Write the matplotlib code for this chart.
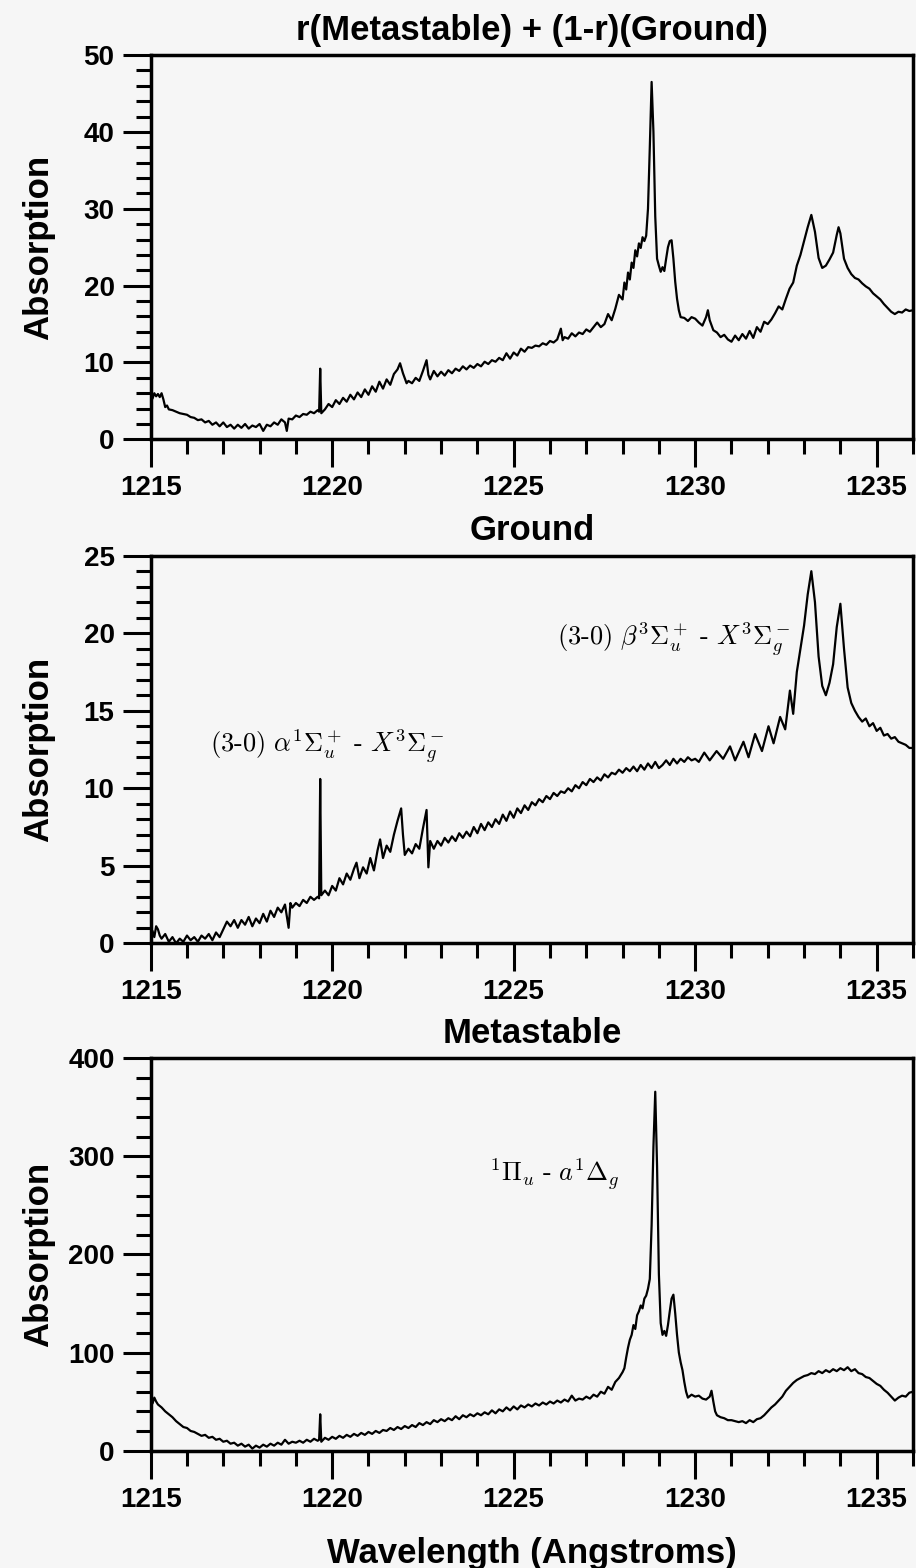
import numpy as np
import matplotlib
matplotlib.use('Agg')
import matplotlib.pyplot as plt
from matplotlib.ticker import MultipleLocator

plt.rcParams['font.family'] = ['Liberation Sans', 'DejaVu Sans']
plt.rcParams['mathtext.fontset'] = 'cm'

# r(Metastable) + (1-r)(Ground) (wavelength A, absorption)
mix_pts = [
    (1215.00, 5.8), (1215.05, 5.3), (1215.10, 6.0), (1215.15, 5.6), (1215.20, 5.9), (1215.25, 5.5),
    (1215.30, 6.0), (1215.35, 5.2), (1215.40, 4.2), (1215.45, 4.4), (1215.50, 3.9), (1215.60, 3.8),
    (1215.70, 3.6), (1215.80, 3.4), (1215.90, 3.3), (1216.00, 3.2), (1216.10, 2.9), (1216.20, 2.8),
    (1216.30, 2.5), (1216.40, 2.6), (1216.50, 2.2), (1216.60, 2.4), (1216.70, 1.9), (1216.80, 2.2),
    (1216.90, 1.7), (1217.00, 2.2), (1217.10, 1.6), (1217.20, 1.9), (1217.30, 1.4), (1217.40, 1.9),
    (1217.50, 1.5), (1217.60, 2.0), (1217.70, 1.4), (1217.80, 1.8), (1217.90, 1.6), (1218.00, 2.0),
    (1218.10, 1.1), (1218.20, 1.9), (1218.30, 1.7), (1218.40, 2.2), (1218.50, 1.9), (1218.60, 2.6),
    (1218.70, 2.2), (1218.75, 1.1), (1218.80, 2.7), (1218.90, 2.6), (1219.00, 3.1), (1219.10, 2.9),
    (1219.20, 3.3), (1219.30, 3.2), (1219.40, 3.6), (1219.50, 3.4), (1219.60, 3.8), (1219.64, 3.6),
    (1219.67, 9.2), (1219.70, 3.4), (1219.80, 3.9), (1219.90, 4.6), (1220.00, 4.2), (1220.10, 5.1),
    (1220.20, 4.6), (1220.30, 5.4), (1220.40, 4.9), (1220.50, 5.8), (1220.60, 5.2), (1220.70, 6.1),
    (1220.80, 5.5), (1220.90, 6.5), (1221.00, 5.8), (1221.10, 6.9), (1221.20, 6.2), (1221.30, 7.5),
    (1221.40, 6.6), (1221.50, 7.8), (1221.60, 7.1), (1221.70, 8.5), (1221.80, 9.1), (1221.87, 9.9),
    (1221.95, 8.6), (1222.05, 7.3), (1222.10, 7.6), (1222.20, 7.3), (1222.30, 8.0), (1222.40, 7.6),
    (1222.50, 8.9), (1222.60, 10.3), (1222.65, 8.4), (1222.70, 7.8), (1222.80, 8.9), (1222.90, 8.2),
    (1223.00, 8.8), (1223.10, 8.3), (1223.20, 9.0), (1223.30, 8.6), (1223.40, 9.2), (1223.50, 8.9),
    (1223.60, 9.5), (1223.70, 9.1), (1223.80, 9.6), (1223.90, 9.3), (1224.00, 9.8), (1224.10, 9.5),
    (1224.20, 10.1), (1224.30, 9.8), (1224.40, 10.3), (1224.50, 10.1), (1224.60, 10.6), (1224.70, 10.3),
    (1224.80, 11.2), (1224.90, 10.5), (1225.00, 11.3), (1225.10, 10.9), (1225.20, 11.8), (1225.30, 11.4),
    (1225.40, 12.0), (1225.50, 11.9), (1225.60, 12.2), (1225.70, 12.1), (1225.80, 12.5), (1225.90, 12.3),
    (1226.00, 12.8), (1226.10, 12.6), (1226.20, 13.0), (1226.30, 14.4), (1226.35, 12.9), (1226.40, 13.3),
    (1226.50, 13.1), (1226.60, 13.8), (1226.70, 13.4), (1226.80, 13.9), (1226.90, 13.7), (1227.00, 14.3),
    (1227.10, 14.0), (1227.20, 14.6), (1227.30, 15.2), (1227.40, 14.6), (1227.50, 15.0), (1227.60, 16.3),
    (1227.70, 15.5), (1227.80, 17.0), (1227.90, 18.8), (1228.00, 18.2), (1228.05, 20.4), (1228.10, 19.5),
    (1228.15, 21.7), (1228.20, 20.8), (1228.25, 23.0), (1228.30, 22.3), (1228.35, 24.6), (1228.40, 23.8),
    (1228.45, 25.5), (1228.50, 24.9), (1228.55, 26.3), (1228.60, 25.8), (1228.65, 26.5), (1228.70, 30.0),
    (1228.75, 38.0), (1228.80, 46.5), (1228.85, 40.0), (1228.90, 29.0), (1228.95, 23.5), (1229.00, 22.6),
    (1229.05, 21.8), (1229.10, 22.4), (1229.15, 21.9), (1229.20, 23.5), (1229.25, 25.0), (1229.30, 25.8),
    (1229.35, 25.9), (1229.40, 23.5), (1229.45, 20.5), (1229.50, 18.3), (1229.55, 16.8), (1229.60, 15.9),
    (1229.70, 15.8), (1229.80, 15.4), (1229.90, 15.9), (1230.00, 15.7), (1230.10, 15.2), (1230.20, 14.8),
    (1230.30, 15.9), (1230.35, 16.8), (1230.40, 15.5), (1230.50, 14.2), (1230.60, 13.9), (1230.70, 13.3),
    (1230.80, 13.6), (1230.90, 13.0), (1231.00, 12.7), (1231.10, 13.5), (1231.20, 12.9), (1231.30, 13.7),
    (1231.40, 13.1), (1231.50, 14.1), (1231.60, 13.2), (1231.70, 14.6), (1231.80, 14.0), (1231.90, 15.3),
    (1232.00, 15.0), (1232.10, 15.6), (1232.20, 16.4), (1232.30, 17.3), (1232.40, 16.9), (1232.50, 18.3),
    (1232.60, 19.6), (1232.70, 20.4), (1232.80, 22.6), (1232.90, 24.0), (1233.00, 25.8), (1233.10, 27.6),
    (1233.20, 29.2), (1233.30, 27.0), (1233.40, 23.6), (1233.50, 22.3), (1233.60, 22.6), (1233.70, 23.4),
    (1233.80, 24.3), (1233.90, 26.6), (1233.95, 27.6), (1234.00, 26.8), (1234.10, 23.5), (1234.20, 22.3),
    (1234.30, 21.5), (1234.40, 21.0), (1234.50, 20.8), (1234.60, 20.3), (1234.70, 19.9), (1234.80, 19.6),
    (1234.90, 19.0), (1235.00, 18.6), (1235.10, 18.2), (1235.20, 17.6), (1235.30, 17.1), (1235.40, 16.6),
    (1235.50, 16.3), (1235.60, 16.6), (1235.70, 16.5), (1235.80, 16.9), (1235.90, 16.7), (1236.00, 16.8),
]

# Ground state
ground_pts = [
    (1215.00, 0.3), (1215.05, 0.8), (1215.10, 0.4), (1215.15, 1.1), (1215.20, 0.9), (1215.25, 0.5),
    (1215.30, 0.3), (1215.40, 0.6), (1215.50, 0.1), (1215.60, 0.4), (1215.70, 0.0), (1215.80, 0.3),
    (1215.90, 0.1), (1216.00, 0.5), (1216.10, 0.2), (1216.20, 0.4), (1216.30, 0.1), (1216.40, 0.5),
    (1216.50, 0.3), (1216.60, 0.6), (1216.70, 0.2), (1216.80, 0.7), (1216.90, 0.4), (1217.00, 0.9),
    (1217.10, 1.4), (1217.20, 1.1), (1217.30, 1.5), (1217.40, 1.0), (1217.50, 1.5), (1217.60, 1.2),
    (1217.70, 1.7), (1217.80, 1.1), (1217.90, 1.6), (1218.00, 1.3), (1218.10, 1.9), (1218.20, 1.4),
    (1218.30, 2.1), (1218.40, 1.7), (1218.50, 2.3), (1218.60, 2.0), (1218.70, 2.5), (1218.80, 1.0),
    (1218.85, 2.6), (1218.90, 2.3), (1219.00, 2.6), (1219.10, 2.4), (1219.20, 2.8), (1219.30, 2.6),
    (1219.40, 3.0), (1219.50, 2.8), (1219.60, 3.0), (1219.64, 2.9), (1219.67, 10.6), (1219.70, 3.1),
    (1219.80, 3.4), (1219.90, 3.1), (1220.00, 3.7), (1220.10, 3.4), (1220.20, 4.2), (1220.30, 3.8),
    (1220.40, 4.5), (1220.50, 4.1), (1220.60, 4.8), (1220.67, 5.2), (1220.75, 4.2), (1220.85, 4.9),
    (1220.95, 4.5), (1221.05, 5.5), (1221.15, 4.7), (1221.25, 6.0), (1221.32, 6.7), (1221.40, 5.5),
    (1221.50, 6.3), (1221.60, 5.9), (1221.70, 7.0), (1221.80, 7.9), (1221.90, 8.7), (1221.95, 7.0),
    (1222.00, 5.7), (1222.10, 6.1), (1222.20, 5.8), (1222.30, 6.4), (1222.40, 6.1), (1222.50, 7.4),
    (1222.60, 8.6), (1222.65, 4.9), (1222.70, 6.6), (1222.80, 6.1), (1222.90, 6.6), (1223.00, 6.3),
    (1223.10, 6.8), (1223.20, 6.5), (1223.30, 6.9), (1223.40, 6.6), (1223.50, 7.1), (1223.60, 6.8),
    (1223.70, 7.2), (1223.80, 6.9), (1223.90, 7.5), (1224.00, 7.1), (1224.10, 7.7), (1224.20, 7.3),
    (1224.30, 7.8), (1224.40, 7.5), (1224.50, 8.0), (1224.60, 7.7), (1224.70, 8.3), (1224.80, 7.9),
    (1224.90, 8.5), (1225.00, 8.1), (1225.10, 8.7), (1225.20, 8.4), (1225.30, 8.9), (1225.40, 8.6),
    (1225.50, 9.1), (1225.60, 8.9), (1225.70, 9.3), (1225.80, 9.1), (1225.90, 9.5), (1226.00, 9.3),
    (1226.10, 9.7), (1226.20, 9.5), (1226.30, 9.8), (1226.40, 9.7), (1226.50, 10.0), (1226.60, 9.8),
    (1226.70, 10.2), (1226.80, 10.0), (1226.90, 10.4), (1227.00, 10.2), (1227.10, 10.6), (1227.20, 10.4),
    (1227.30, 10.7), (1227.40, 10.5), (1227.50, 10.9), (1227.60, 10.7), (1227.70, 11.0), (1227.80, 10.9),
    (1227.90, 11.2), (1228.00, 11.0), (1228.10, 11.3), (1228.20, 11.1), (1228.30, 11.4), (1228.40, 11.1),
    (1228.50, 11.5), (1228.60, 11.2), (1228.70, 11.6), (1228.80, 11.3), (1228.90, 11.7), (1229.00, 11.3),
    (1229.10, 11.5), (1229.20, 11.8), (1229.30, 11.5), (1229.40, 11.9), (1229.50, 11.6), (1229.60, 11.9),
    (1229.70, 11.7), (1229.80, 12.0), (1229.90, 11.8), (1230.00, 11.9), (1230.10, 11.7), (1230.25, 12.3),
    (1230.40, 11.8), (1230.59, 12.4), (1230.77, 11.9), (1230.96, 12.7), (1231.10, 11.8), (1231.33, 13.0),
    (1231.47, 12.0), (1231.65, 13.5), (1231.84, 12.4), (1232.02, 14.0), (1232.16, 12.9), (1232.34, 14.6),
    (1232.48, 13.8), (1232.61, 16.3), (1232.70, 14.8), (1232.80, 17.5), (1232.90, 19.0), (1233.00, 20.5),
    (1233.10, 22.5), (1233.20, 24.0), (1233.30, 22.0), (1233.40, 18.5), (1233.50, 16.6), (1233.60, 16.0),
    (1233.70, 16.8), (1233.80, 18.0), (1233.90, 20.4), (1234.00, 21.9), (1234.10, 19.0), (1234.20, 16.5),
    (1234.30, 15.5), (1234.40, 15.0), (1234.50, 14.6), (1234.60, 14.3), (1234.70, 14.5), (1234.80, 14.0),
    (1234.90, 14.2), (1235.00, 13.7), (1235.10, 13.9), (1235.20, 13.4), (1235.30, 13.5), (1235.40, 13.2),
    (1235.50, 13.3), (1235.60, 13.0), (1235.70, 12.9), (1235.80, 12.8), (1235.90, 12.6), (1236.00, 12.6),
]

# Metastable
meta_pts = [
    (1215.00, 52), (1215.05, 48), (1215.10, 54), (1215.15, 50), (1215.20, 47), (1215.30, 44),
    (1215.40, 40), (1215.50, 37), (1215.60, 34), (1215.70, 30), (1215.80, 27), (1215.90, 24),
    (1216.00, 23), (1216.10, 20), (1216.20, 19), (1216.30, 17), (1216.40, 15), (1216.50, 16),
    (1216.60, 13), (1216.70, 14), (1216.80, 11), (1216.90, 12), (1217.00, 9), (1217.10, 10),
    (1217.20, 7), (1217.30, 8), (1217.40, 5), (1217.50, 7), (1217.60, 4), (1217.70, 6),
    (1217.80, 2), (1217.90, 5), (1218.00, 3), (1218.10, 6), (1218.20, 4), (1218.30, 7),
    (1218.40, 5), (1218.50, 8), (1218.60, 6), (1218.70, 11), (1218.80, 7), (1218.90, 9),
    (1219.00, 8), (1219.10, 10), (1219.20, 8), (1219.30, 11), (1219.40, 9), (1219.50, 12),
    (1219.60, 10), (1219.64, 11), (1219.67, 37), (1219.70, 9), (1219.80, 13), (1219.90, 11),
    (1220.00, 14), (1220.10, 12), (1220.20, 15), (1220.30, 13), (1220.40, 16), (1220.50, 14),
    (1220.60, 17), (1220.70, 15), (1220.80, 18), (1220.90, 16), (1221.00, 19), (1221.10, 17),
    (1221.20, 20), (1221.30, 18), (1221.40, 21), (1221.50, 20), (1221.60, 23), (1221.70, 21),
    (1221.80, 24), (1221.90, 22), (1222.00, 25), (1222.10, 23), (1222.20, 26), (1222.30, 24),
    (1222.40, 28), (1222.50, 26), (1222.60, 29), (1222.70, 27), (1222.80, 31), (1222.90, 29),
    (1223.00, 32), (1223.10, 30), (1223.20, 33), (1223.30, 31), (1223.40, 35), (1223.50, 32),
    (1223.60, 36), (1223.70, 34), (1223.80, 37), (1223.90, 35), (1224.00, 38), (1224.10, 36),
    (1224.20, 39), (1224.30, 37), (1224.40, 41), (1224.50, 38), (1224.60, 42), (1224.70, 40),
    (1224.80, 44), (1224.90, 41), (1225.00, 45), (1225.10, 42), (1225.20, 46), (1225.30, 44),
    (1225.40, 47), (1225.50, 45), (1225.60, 48), (1225.70, 46), (1225.80, 49), (1225.90, 47),
    (1226.00, 50), (1226.10, 48), (1226.20, 51), (1226.30, 49), (1226.40, 52), (1226.50, 50),
    (1226.60, 56), (1226.70, 51), (1226.80, 53), (1226.90, 52), (1227.00, 55), (1227.10, 53),
    (1227.20, 57), (1227.30, 55), (1227.40, 60), (1227.50, 58), (1227.60, 65), (1227.70, 62),
    (1227.80, 70), (1227.90, 74), (1228.00, 80), (1228.05, 84), (1228.10, 95), (1228.15, 105),
    (1228.20, 113), (1228.25, 118), (1228.30, 128), (1228.35, 124), (1228.40, 138), (1228.45, 142),
    (1228.50, 148), (1228.55, 145), (1228.60, 155), (1228.65, 158), (1228.70, 165), (1228.75, 175),
    (1228.80, 230), (1228.85, 310), (1228.90, 366), (1228.95, 290), (1229.00, 180), (1229.05, 130),
    (1229.10, 118), (1229.15, 122), (1229.20, 117), (1229.25, 128), (1229.30, 142), (1229.35, 155),
    (1229.40, 159), (1229.45, 140), (1229.50, 118), (1229.55, 100), (1229.60, 90), (1229.65, 82),
    (1229.70, 70), (1229.75, 60), (1229.80, 54), (1229.90, 57), (1230.00, 55), (1230.10, 56),
    (1230.20, 53), (1230.30, 52), (1230.40, 55), (1230.45, 61), (1230.50, 50), (1230.55, 40),
    (1230.60, 36), (1230.70, 34), (1230.80, 33), (1230.90, 31), (1231.00, 31), (1231.10, 30),
    (1231.20, 29), (1231.30, 30), (1231.40, 28), (1231.50, 31), (1231.60, 29), (1231.70, 32),
    (1231.80, 33), (1231.90, 36), (1232.00, 40), (1232.10, 44), (1232.20, 47), (1232.30, 51),
    (1232.40, 55), (1232.50, 61), (1232.60, 65), (1232.70, 69), (1232.80, 72), (1232.90, 74),
    (1233.00, 76), (1233.10, 77), (1233.20, 79), (1233.30, 78), (1233.40, 81), (1233.50, 79),
    (1233.60, 82), (1233.70, 80), (1233.80, 83), (1233.90, 81), (1234.00, 84), (1234.10, 82),
    (1234.20, 85), (1234.30, 81), (1234.40, 83), (1234.50, 79), (1234.60, 78), (1234.70, 75),
    (1234.80, 74), (1234.90, 71), (1235.00, 68), (1235.10, 66), (1235.20, 62), (1235.30, 59),
    (1235.40, 55), (1235.50, 51), (1235.60, 54), (1235.70, 56), (1235.80, 55), (1235.90, 59),
    (1236.00, 60),
]

titles = ['r(Metastable) + (1-r)(Ground)', 'Ground', 'Metastable']
ymax = [50, 25, 400]
ymajor = [10, 5, 100]
yminor = [2, 1, 20]
rects = [(0.1645, 0.7198, 0.8322, 0.2451),
         (0.1645, 0.3984, 0.8322, 0.2472),
         (0.1645, 0.0749, 0.8322, 0.2501)]

bg = '#f6f6f6'
fig = plt.figure(figsize=(9.16, 15.68), dpi=100, facecolor=bg)

for i, pts in enumerate([mix_pts, ground_pts, meta_pts]):
    ax = fig.add_axes(rects[i])
    ax.set_facecolor(bg)
    d = np.array(pts)
    ax.plot(d[:, 0], d[:, 1], color='black', lw=1.6)
    ax.set_xlim(1215, 1236)
    ax.set_ylim(0, ymax[i])
    ax.xaxis.set_major_locator(MultipleLocator(5))
    ax.xaxis.set_minor_locator(MultipleLocator(1))
    ax.yaxis.set_major_locator(MultipleLocator(ymajor[i]))
    ax.yaxis.set_minor_locator(MultipleLocator(yminor[i]))
    ax.tick_params(which='major', direction='out', length=20, width=2.2, pad=6)
    ax.tick_params(which='minor', direction='out', length=11, width=2.2)
    for lab in ax.get_xticklabels() + ax.get_yticklabels():
        lab.set_fontsize(20)
        lab.set_fontweight('bold')
    for s in ax.spines.values():
        s.set_linewidth(2.5)
    ax.set_title(titles[i], fontsize=25, fontweight='bold', pad=11)
    ax.set_ylabel('Absorption', fontsize=25, fontweight='bold')
    ax.yaxis.set_label_coords(-0.1255, 0.5)
    if i == 1:
        ax.text(1216.63, 12.7, r'$\mathrm{(3\text{-}0)}\ \alpha^1\Sigma_u^+\ \text{-}\ X^3\Sigma_g^-$',
                fontsize=19, va='center', ha='left')
        ax.text(1226.18, 19.6, r'$\mathrm{(3\text{-}0)}\ \beta^3\Sigma_u^+\ \text{-}\ X^3\Sigma_g^-$',
                fontsize=19, va='center', ha='left')
    if i == 2:
        ax.text(1224.33, 282, r'$^1\Pi_u\ \text{-}\ a^1\Delta_g$',
                fontsize=19, va='center', ha='left')
        ax.set_xlabel('Wavelength (Angstroms)', fontsize=25, fontweight='bold')
        ax.xaxis.set_label_coords(0.5, -0.22)

fig.savefig('out.png', dpi=100, facecolor=bg)
